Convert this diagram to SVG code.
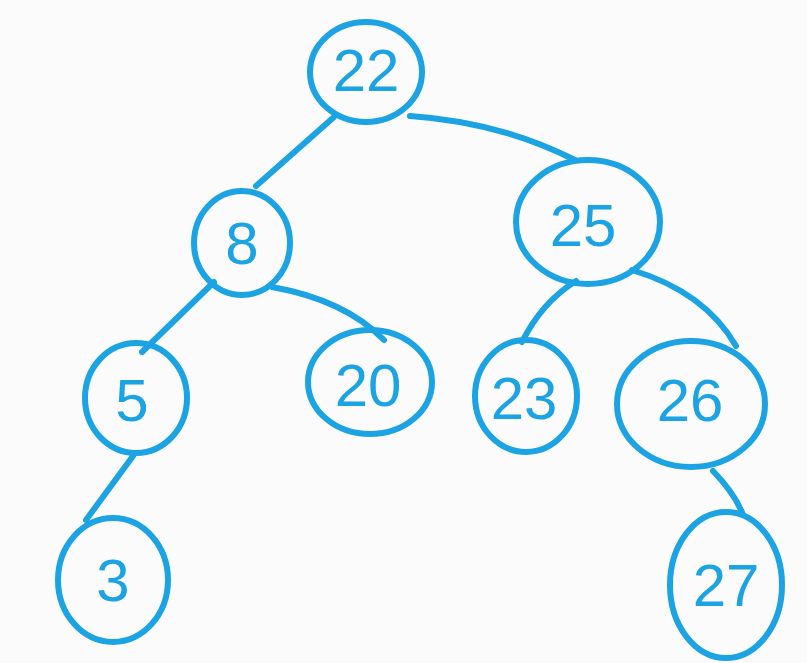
<svg xmlns="http://www.w3.org/2000/svg" width="807" height="663" viewBox="0 0 807 663">
<style>
.n{fill:none;stroke:#1ca3e3;stroke-width:6;stroke-linecap:round}
.e{fill:none;stroke:#1ca3e3;stroke-width:6;stroke-linecap:round}
.t{fill:#1ca3e3;font-family:"Liberation Sans",Arial,sans-serif;font-size:60px;text-anchor:middle;dominant-baseline:central}
</style>
<rect width="807" height="663" fill="#fbfbfc"/>
<g id="connectors">
<path class="e" d="M334,117 L256,186"/>
<path class="e" d="M410,116 Q500,122 575,160"/>
<path class="e" d="M214,282 L142,352"/>
<path class="e" d="M272,287 Q345,300 384,340"/>
<path class="e" d="M576,281 Q542,302 522,342"/>
<path class="e" d="M632,270 Q705,292 736,346"/>
<path class="e" d="M133,456 L86,520"/>
<path class="e" d="M713,471 Q736,495 743,515"/>
</g>
<g id="n22"><ellipse class="n" cx="366" cy="72" rx="56" ry="50"/><text class="t" x="366" y="70">22</text></g>
<g id="n8"><ellipse class="n" cx="242" cy="243" rx="48" ry="52"/><text class="t" x="242" y="243">8</text></g>
<g id="n25"><ellipse class="n" cx="588" cy="222" rx="72" ry="62"/><text class="t" x="583" y="225">25</text></g>
<g id="n5"><ellipse class="n" cx="136" cy="398" rx="51" ry="55"/><text class="t" x="132" y="400">5</text></g>
<g id="n20"><ellipse class="n" cx="370" cy="382" rx="62" ry="52"/><text class="t" x="368" y="385">20</text></g>
<g id="n23"><ellipse class="n" cx="526" cy="396" rx="51" ry="56"/><text class="t" x="524" y="398">23</text></g>
<g id="n26"><ellipse class="n" cx="691" cy="404" rx="74" ry="63"/><text class="t" x="690" y="400">26</text></g>
<g id="n3"><ellipse class="n" cx="113" cy="580" rx="55" ry="62"/><text class="t" x="113" y="580">3</text></g>
<g id="n27"><ellipse class="n" cx="726" cy="585" rx="56" ry="73"/><text class="t" x="726" y="585">27</text></g>
</svg>
